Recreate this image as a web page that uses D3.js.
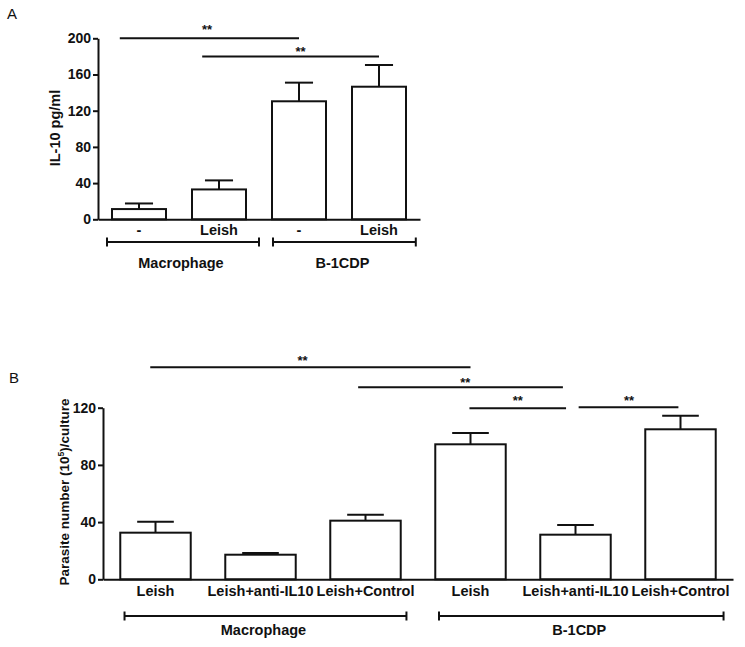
<!DOCTYPE html>
<html><head><meta charset="utf-8">
<script src="https://cdn.jsdelivr.net/npm/d3@7"></script>
<style>
body{margin:0;background:#fff}
svg{display:block}
text{font-family:"Liberation Sans",Arial,Helvetica,sans-serif;fill:#111}
</style>
</head><body>
<svg id="chart" width="745" height="647"></svg>
<script>
// ---------- Panel A data ----------
const categoriesA = ["-", "Leish", "-", "Leish"];
const valuesA = [11.3, 33, 130.4, 146.5];
const errorsA = [6.2, 10, 20.6, 24];
const ticksA = [0, 40, 80, 120, 160, 200];
const groupNamesA = ["Macrophage", "B-1CDP"];
const groupFromA = [-0.4, 1.675];
const groupToA = [1.5, 3.46];
const sigFromA = [-0.24, 0.79];
const sigToA = [2, 3];
const sigLevelA = [200, 180];
const sigStarAtA = [0.85, 2.02];
const sigStarLevelA = [212.8, 187.8];

// ---------- Panel B data ----------
const categoriesB = ["Leish", "Leish+anti-IL10", "Leish+Control", "Leish", "Leish+anti-IL10", "Leish+Control"];
const valuesB = [32.6, 17.2, 41, 94.4, 31.2, 104.9];
const errorsB = [7.7, 1.2, 4.2, 7.9, 6.8, 9.5];
const ticksB = [0, 40, 80, 120];
const groupNamesB = ["Macrophage", "B-1CDP"];
const groupFromB = [-0.295, 2.7];
const groupToB = [2.39, 5.41];
const sigFromB = [-0.05, 1.93, 2.99, 4.03];
const sigToB = [3.0, 3.88, 3.91, 4.98];
const sigLevelB = [148.3, 134.3, 119.6, 120.3];
const sigStarAtB = [1.40, 2.95, 3.45, 4.51];
const sigStarLevelB = [155, 139.4, 126.6, 126.8];

const svg = d3.select("#chart");
const INK = "#111";

function panel(o) {
  const g = svg.append("g");
  const idx = o.categories.map((d, i) => i);
  const x = d3.scaleBand().domain(idx).range([o.x0, o.x1])
    .paddingInner(o.padIn).paddingOuter(o.padOut);
  const y = d3.scaleLinear().domain(o.yDomain).range([o.y0, o.y1]);
  const bw = x.bandwidth();
  const slot = d3.scaleLinear().domain([0, 1]).range([x(0) + bw / 2, x(1) + bw / 2]);

  // panel letter
  g.append("text").attr("x", o.letterX).attr("y", o.letterY)
    .attr("font-size", 15).text(o.letter);

  // bars
  g.selectAll("rect.bar").data(o.values).join("rect")
    .attr("class", "bar")
    .attr("x", (d, i) => x(i)).attr("width", bw)
    .attr("y", d => y(d)).attr("height", d => y(0) - y(d))
    .attr("fill", "#fff").attr("stroke", INK).attr("stroke-width", 2);

  // error bars
  const cap = bw * 0.52;
  o.values.forEach((v, i) => {
    const cx = x(i) + bw / 2;
    g.append("line").attr("x1", cx).attr("x2", cx)
      .attr("y1", y(v)).attr("y2", y(v + o.errors[i]))
      .attr("stroke", INK).attr("stroke-width", 2);
    g.append("line").attr("x1", cx - cap / 2).attr("x2", cx + cap / 2)
      .attr("y1", y(v + o.errors[i])).attr("y2", y(v + o.errors[i]))
      .attr("stroke", INK).attr("stroke-width", 2);
  });

  // y axis
  const ya = g.append("g").attr("transform", `translate(${o.x0},0)`)
    .call(d3.axisLeft(y).tickValues(o.ticks).tickSize(5).tickSizeOuter(0).tickPadding(2));
  ya.select(".domain").attr("stroke", INK).attr("stroke-width", 2);
  ya.selectAll(".tick line").attr("stroke", INK).attr("stroke-width", 2);
  ya.selectAll(".tick text").attr("font-size", 14).attr("font-weight", "bold")
    .attr("font-family", '"Liberation Sans",Arial,sans-serif').attr("fill", INK);

  // x axis
  const xa = g.append("g").attr("transform", `translate(0,${y(0)})`)
    .call(d3.axisBottom(x).tickSize(0).tickSizeOuter(0).tickFormat(i => o.categories[i]));
  xa.select(".domain").attr("stroke", INK).attr("stroke-width", 2);
  xa.selectAll(".tick text").attr("font-size", o.catSize).attr("font-weight", "bold")
    .attr("font-family", '"Liberation Sans",Arial,sans-serif').attr("fill", INK)
    .attr("y", o.catDy).attr("dy", 0);

  // y title
  const t = g.append("text")
    .attr("transform", `translate(${o.titleX},${o.titleY}) rotate(-90)`)
    .attr("text-anchor", "middle").attr("font-weight", "bold")
    .attr("font-size", o.titleSize);
  o.title.forEach(p => {
    const ts = t.append("tspan").text(p.t);
    if (p.sup) ts.attr("baseline-shift", "super").attr("font-size", o.titleSize * 0.65);
  });

  // group brackets
  o.groupNames.forEach((name, i) => {
    const xa1 = slot(o.groupFrom[i]), xa2 = slot(o.groupTo[i]);
    g.append("line").attr("x1", xa1).attr("x2", xa2)
      .attr("y1", o.bracketY).attr("y2", o.bracketY)
      .attr("stroke", INK).attr("stroke-width", 2);
    [xa1, xa2].forEach(xx => g.append("line").attr("x1", xx).attr("x2", xx)
      .attr("y1", o.bracketY - 4.5).attr("y2", o.bracketY + 4.5)
      .attr("stroke", INK).attr("stroke-width", 2));
    g.append("text").attr("x", (xa1 + xa2) / 2 - 2).attr("y", o.groupLabelY)
      .attr("text-anchor", "middle").attr("font-weight", "bold")
      .attr("font-size", 14.5).text(name);
  });

  // significance lines
  o.sigFrom.forEach((f, i) => {
    g.append("line").attr("x1", slot(f)).attr("x2", slot(o.sigTo[i]))
      .attr("y1", y(o.sigLevel[i])).attr("y2", y(o.sigLevel[i]))
      .attr("stroke", INK).attr("stroke-width", 2);
    g.append("text").attr("x", slot(o.sigStarAt[i])).attr("y", y(o.sigStarLevel[i]) + 7)
      .attr("text-anchor", "middle").attr("font-weight", "bold")
      .attr("font-size", 13).text("**");
  });
}

panel({
  letter: "A", letterX: 7, letterY: 19,
  categories: categoriesA, values: valuesA, errors: errorsA, ticks: ticksA,
  x0: 98, x1: 420, padIn: 0.325, padOut: 0.175,
  yDomain: [0, 200], y0: 219.3, y1: 38.3,
  catSize: 14.5, catDy: 16,
  title: [{t: "IL-10 pg/ml"}], titleX: 60, titleY: 128, titleSize: 14.5,
  groupNames: groupNamesA, groupFrom: groupFromA, groupTo: groupToA,
  bracketY: 242, groupLabelY: 268,
  sigFrom: sigFromA, sigTo: sigToA, sigLevel: sigLevelA,
  sigStarAt: sigStarAtA, sigStarLevel: sigStarLevelA
});

panel({
  letter: "B", letterX: 9, letterY: 383,
  categories: categoriesB, values: valuesB, errors: errorsB, ticks: ticksB,
  x0: 103, x1: 733, padIn: 0.329, padOut: 0.1645,
  yDomain: [0, 120], y0: 579.3, y1: 407.7,
  catSize: 14.5, catDy: 17,
  title: [{t: "Parasite number (10"}, {t: "5", sup: true}, {t: ")/culture"}],
  titleX: 69, titleY: 492, titleSize: 13.5,
  groupNames: groupNamesB, groupFrom: groupFromB, groupTo: groupToB,
  bracketY: 616, groupLabelY: 635,
  sigFrom: sigFromB, sigTo: sigToB, sigLevel: sigLevelB,
  sigStarAt: sigStarAtB, sigStarLevel: sigStarLevelB
});
</script>
</body></html>
